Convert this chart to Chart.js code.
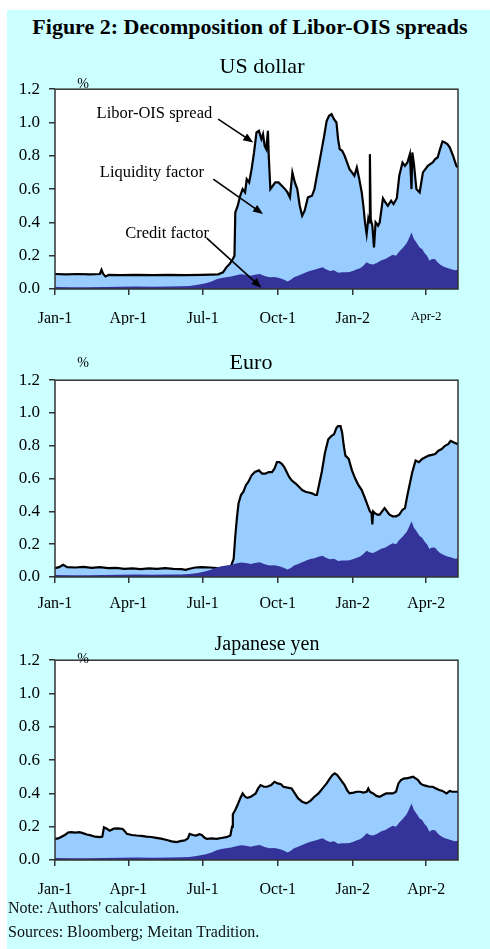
<!DOCTYPE html>
<html>
<head>
<meta charset="utf-8">
<script src="https://cdn.jsdelivr.net/npm/chart.js@4.4.1/dist/chart.umd.min.js"></script>
<style>
  body { margin: 0; width: 490px; height: 949px; background: #fff; position: relative; overflow: hidden;
         font-family: 'Liberation Serif', 'Times New Roman', serif; }
  #bg { position: absolute; left: 7px; top: 10px; right: 0; bottom: 0; background: #ccffff; }
  canvas { position: absolute; left: 0; }
  .t { position: absolute; white-space: nowrap; color: #000; transform: translate(-50%, -50%); }
  .l { position: absolute; white-space: nowrap; color: #111; transform: translateY(-50%); font-size: 16px; }
</style>
</head>
<body>
<div id="bg"></div>
<canvas id="usChart" width="490" height="260" style="top:70px"></canvas>
<canvas id="euroChart" width="490" height="260" style="top:361px"></canvas>
<canvas id="yenChart" width="490" height="260" style="top:641px"></canvas>

<div class="t" style="left:250px;top:27px;font-size:22px;font-weight:bold;">Figure 2: Decomposition of Libor-OIS spreads</div>
<div class="t" style="left:262px;top:66px;font-size:22px;">US dollar</div>
<div class="t" style="left:83px;top:84px;font-size:14px;">%</div>
<div class="t" style="left:251px;top:362px;font-size:22px;">Euro</div>
<div class="t" style="left:83px;top:363px;font-size:14px;">%</div>
<div class="t" style="left:267px;top:643px;font-size:20px;">Japanese yen</div>
<div class="t" style="left:83px;top:659px;font-size:14px;">%</div>
<div class="l" style="left:8px;top:908px;">Note: Authors' calculation.</div>
<div class="l" style="left:8px;top:932px;">Sources: Bloomberg; Meitan Tradition.</div>

<script>
// x axis is in days from Jan-1 of year 1
const tickDays = [0, 90, 181, 273, 365, 455];
const tickLabels = ['Jan-1', 'Apr-1', 'Jul-1', 'Oct-1', 'Jan-2', 'Apr-2'];
const lastDay = 494;

// credit factor (same in all three panels)
const creditDays = [0, 20, 40, 60, 80, 100, 120, 140, 155, 165, 175, 185, 192, 198, 204, 210, 216, 222, 228, 234,
    240, 245, 251, 257, 263, 269, 276, 281, 285, 289, 293, 298, 303, 308, 313, 318, 324, 328, 332, 337,
    342, 347, 352, 357, 361, 366, 370, 374, 378, 382, 386, 390, 395, 400, 405, 410, 414, 418, 422, 426,
    431, 434, 437, 440, 443, 447, 450, 453, 456, 459, 462, 466, 469, 472, 476, 480, 485, 490, 494];
const creditFactor = [0.012, 0.01, 0.01, 0.012, 0.014, 0.015, 0.014, 0.015, 0.016, 0.018, 0.025, 0.035, 0.045, 0.058, 0.066, 0.07, 0.075, 0.082, 0.088, 0.085,
    0.08, 0.085, 0.09, 0.078, 0.07, 0.072, 0.064, 0.055, 0.045, 0.055, 0.07, 0.08, 0.09, 0.1, 0.11, 0.115, 0.125, 0.13, 0.118, 0.108,
    0.112, 0.098, 0.1, 0.1, 0.102, 0.11, 0.118, 0.125, 0.14, 0.16, 0.15, 0.147, 0.158, 0.172, 0.18, 0.195, 0.206, 0.2, 0.225, 0.245,
    0.275, 0.305, 0.34, 0.3, 0.28, 0.25, 0.24, 0.216, 0.2, 0.17, 0.18, 0.178, 0.16, 0.147, 0.135, 0.127, 0.12, 0.112, 0.115];

// US dollar Libor-OIS spread
const usDays = [0, 14, 28, 42, 55, 57, 59, 62, 66, 80, 100, 120, 140, 160, 180, 200, 206, 210, 214, 218,
    220, 221, 224, 227, 230, 233, 235, 238, 241, 244, 247, 250, 253, 255, 257, 259, 261, 262, 264, 267,
    270, 274, 278, 282, 285, 288, 291, 294, 297, 300, 303, 306, 310, 315, 318, 321, 324, 327, 330, 333,
    336, 339, 342, 345, 347, 349, 352, 355, 358, 361, 364, 367, 370, 373, 376, 378, 380, 382, 384, 385,
    386, 387, 389, 391, 393, 396, 398, 402, 405, 408, 412, 415, 419, 422, 426, 429, 432, 435, 437, 438,
    440, 443, 447, 451, 454, 457, 460, 463, 466, 469, 472, 475, 478, 481, 484, 488, 492, 494];
const usSpread = [0.09, 0.088, 0.09, 0.088, 0.09, 0.115, 0.09, 0.075, 0.085, 0.083, 0.085, 0.083, 0.085, 0.083, 0.085, 0.088, 0.1, 0.13, 0.15, 0.18,
    0.2, 0.46, 0.5, 0.56, 0.6, 0.58, 0.66, 0.64, 0.72, 0.82, 0.94, 0.95, 0.9, 0.93, 0.86, 0.84, 0.95, 0.8, 0.6, 0.62,
    0.64, 0.64, 0.62, 0.6, 0.58, 0.55, 0.7, 0.64, 0.6, 0.5, 0.44, 0.47, 0.55, 0.56, 0.6, 0.68, 0.76, 0.84, 0.92, 1.01,
    1.04, 1.05, 1.02, 1.0, 0.9, 0.84, 0.83, 0.8, 0.76, 0.72, 0.7, 0.68, 0.73, 0.66, 0.58, 0.5, 0.4, 0.33, 0.42, 0.4,
    0.81, 0.42, 0.38, 0.25, 0.4, 0.38, 0.4, 0.545, 0.52, 0.5, 0.53, 0.51, 0.545, 0.68, 0.76, 0.74, 0.76, 0.81, 0.6, 0.82,
    0.75, 0.6, 0.58, 0.7, 0.72, 0.74, 0.75, 0.76, 0.78, 0.79, 0.84, 0.886, 0.88, 0.87, 0.85, 0.8, 0.74, 0.73];

// Euro Libor-OIS spread
const euroDays = [0, 5, 10, 15, 25, 35, 45, 55, 65, 75, 85, 95, 105, 115, 125, 135, 145, 155, 160, 165,
    172, 180, 190, 198, 205, 212, 216, 219, 221, 223, 225, 228, 231, 234, 237, 241, 245, 250, 254, 258,
    262, 266, 269, 272, 275, 278, 281, 284, 287, 290, 295, 299, 303, 307, 311, 315, 319, 321, 324, 327,
    331, 335, 339, 342, 345, 347, 350, 352, 354, 356, 360, 364, 368, 372, 376, 380, 383, 386, 388, 389,
    390, 392, 395, 398, 401, 404, 407, 410, 414, 418, 422, 426, 429, 432, 435, 438, 442, 446, 450, 454,
    458, 462, 466, 470, 474, 478, 482, 485, 489, 494];
const euroSpread = [0.054, 0.06, 0.074, 0.06, 0.058, 0.062, 0.056, 0.06, 0.054, 0.056, 0.05, 0.052, 0.048, 0.052, 0.05, 0.054, 0.05, 0.048, 0.044, 0.05,
    0.058, 0.06, 0.058, 0.055, 0.048, 0.05, 0.07, 0.11, 0.25, 0.36, 0.45, 0.5, 0.52, 0.56, 0.58, 0.62, 0.64, 0.65, 0.63, 0.63,
    0.64, 0.64, 0.66, 0.7, 0.7, 0.69, 0.67, 0.64, 0.61, 0.59, 0.57, 0.55, 0.53, 0.52, 0.515, 0.51, 0.5, 0.5, 0.57, 0.64,
    0.76, 0.84, 0.86, 0.87, 0.91, 0.92, 0.92, 0.88, 0.8, 0.74, 0.72, 0.65, 0.6, 0.56, 0.53, 0.48, 0.44, 0.4, 0.39, 0.32,
    0.4, 0.39, 0.38, 0.38, 0.4, 0.42, 0.4, 0.38, 0.37, 0.37, 0.38, 0.41, 0.42, 0.5, 0.57, 0.64, 0.71, 0.7, 0.72, 0.73,
    0.74, 0.745, 0.75, 0.77, 0.78, 0.8, 0.81, 0.83, 0.82, 0.81];

// Japanese yen Libor-OIS spread
const yenDays = [0, 4, 8, 12, 16, 20, 25, 30, 35, 39, 44, 49, 55, 58, 60, 63, 67, 72, 77, 83,
    86, 88, 94, 100, 106, 112, 118, 124, 130, 137, 143, 149, 155, 159, 163, 165, 169, 173, 177, 180,
    183, 186, 192, 198, 204, 210, 215, 217, 218, 221, 224, 227, 230, 233, 236, 240, 243, 246, 249, 252,
    256, 260, 265, 269, 273, 277, 280, 285, 290, 294, 298, 303, 308, 313, 318, 323, 328, 333, 337, 340,
    343, 346, 349, 352, 355, 358, 361, 366, 370, 374, 378, 382, 384, 386, 390, 394, 398, 402, 406, 410,
    414, 418, 421, 424, 428, 431, 435, 439, 442, 445, 448, 451, 455, 459, 463, 467, 471, 475, 480, 484,
    487, 490, 494];
const yenSpread = [0.127, 0.13, 0.14, 0.15, 0.165, 0.167, 0.165, 0.167, 0.16, 0.153, 0.148, 0.14, 0.137, 0.14, 0.196, 0.19, 0.176, 0.188, 0.19, 0.186,
    0.17, 0.157, 0.15, 0.147, 0.145, 0.14, 0.138, 0.133, 0.128, 0.12, 0.112, 0.108, 0.115, 0.118, 0.13, 0.157, 0.15, 0.147, 0.155, 0.15,
    0.135, 0.127, 0.13, 0.127, 0.132, 0.137, 0.147, 0.2, 0.275, 0.3, 0.333, 0.37, 0.4, 0.38, 0.373, 0.38, 0.39, 0.4, 0.43, 0.45,
    0.44, 0.44, 0.45, 0.47, 0.46, 0.455, 0.44, 0.435, 0.43, 0.4, 0.37, 0.35, 0.34, 0.355, 0.38, 0.4, 0.43, 0.46, 0.49, 0.51,
    0.52, 0.51, 0.49, 0.47, 0.45, 0.42, 0.4, 0.405, 0.41, 0.41, 0.405, 0.41, 0.43, 0.41, 0.4, 0.385, 0.38, 0.39, 0.4, 0.4,
    0.4, 0.41, 0.46, 0.48, 0.49, 0.49, 0.495, 0.5, 0.49, 0.48, 0.46, 0.45, 0.445, 0.44, 0.44, 0.43, 0.42, 0.415, 0.4, 0.415,
    0.41, 0.41, 0.41];

// US panel annotations: text anchor and arrow, in data units (day, %)
const usNotes = [
    { text: 'Libor-OIS spread', at: [51, 1.053], from: [200, 1.02], to: [243, 0.88] },
    { text: 'Liquidity factor', at: [55, 0.7], from: [194, 0.66], to: [255, 0.45] },
    { text: 'Credit factor', at: [86, 0.335], from: [186, 0.306], to: [253, 0.008] }
];

const serif = "'Liberation Serif', 'Times New Roman', serif";

function toPoints(days, vals) {
    return days.map((d, i) => ({ x: d, y: vals[i] }));
}

const boxPlugin = {
    id: 'box',
    beforeDraw(chart) {
        const { ctx, chartArea: a } = chart;
        ctx.save();
        ctx.fillStyle = '#fff';
        ctx.fillRect(a.left, a.top, a.right - a.left, a.bottom - a.top);
        ctx.restore();
    },
    afterDatasetsDraw(chart) {
        const { ctx, chartArea: a } = chart;
        ctx.save();
        ctx.strokeStyle = '#333';
        ctx.lineWidth = 1.5;
        ctx.strokeRect(a.left, a.top, a.right - a.left, a.bottom - a.top);
        ctx.restore();
    }
};

const notesPlugin = {
    id: 'notes',
    afterDraw(chart) {
        const notes = chart.options.plugins.notes.items;
        if (!notes) return;
        const { ctx, scales: { x, y } } = chart;
        ctx.save();
        ctx.font = '16.5px ' + serif;
        ctx.fillStyle = '#000';
        ctx.strokeStyle = '#000';
        ctx.textBaseline = 'middle';
        notes.forEach(n => {
            ctx.fillText(n.text, x.getPixelForValue(n.at[0]), y.getPixelForValue(n.at[1]));
            const x1 = x.getPixelForValue(n.from[0]), y1 = y.getPixelForValue(n.from[1]);
            const x2 = x.getPixelForValue(n.to[0]), y2 = y.getPixelForValue(n.to[1]);
            const ang = Math.atan2(y2 - y1, x2 - x1);
            ctx.lineWidth = 1.6;
            ctx.beginPath();
            ctx.moveTo(x1, y1);
            ctx.lineTo(x2 - 6 * Math.cos(ang), y2 - 6 * Math.sin(ang));
            ctx.stroke();
            ctx.beginPath();
            ctx.moveTo(x2, y2);
            ctx.lineTo(x2 - 10 * Math.cos(ang) + 4 * Math.sin(ang), y2 - 10 * Math.sin(ang) - 4 * Math.cos(ang));
            ctx.lineTo(x2 - 10 * Math.cos(ang) - 4 * Math.sin(ang), y2 - 10 * Math.sin(ang) + 4 * Math.cos(ang));
            ctx.closePath();
            ctx.fill();
        });
        ctx.restore();
    }
};

function makePanel(id, days, spread, padBottom, labelPad, notes, smallLast) {
    return new Chart(document.getElementById(id).getContext('2d'), {
        type: 'line',
        data: {
            datasets: [
                {
                    label: 'Credit factor',
                    data: toPoints(creditDays, creditFactor),
                    fill: 'origin',
                    backgroundColor: '#333399',
                    borderWidth: 0,
                    pointRadius: 0
                },
                {
                    label: 'Libor-OIS spread',
                    data: toPoints(days, spread),
                    fill: 'origin',
                    backgroundColor: '#99ccff',
                    borderColor: '#000',
                    borderWidth: 2.2,
                    pointRadius: 0
                }
            ]
        },
        options: {
            responsive: false,
            animation: false,
            layout: { padding: { top: 15, right: 32, bottom: padBottom, left: 0 } },
            plugins: {
                legend: { display: false },
                tooltip: { enabled: false },
                notes: { items: notes }
            },
            scales: {
                x: {
                    type: 'linear',
                    min: 0,
                    max: lastDay,
                    afterBuildTicks: axis => { axis.ticks = tickDays.map(v => ({ value: v })); },
                    afterFit: s => { s.height = 36; },
                    grid: { display: true, drawOnChartArea: false, drawTicks: true, tickLength: 6, color: '#333', lineWidth: 1.5 },
                    border: { display: false },
                    ticks: {
                        autoSkip: false,
                        maxRotation: 0,
                        padding: labelPad,
                        color: '#000',
                        font: c => ({ family: serif, size: (smallLast && c.tick && c.tick.value === 455) ? 13 : 16 }),
                        callback: v => tickLabels[tickDays.indexOf(v)]
                    }
                },
                y: {
                    min: 0,
                    max: 1.2,
                    afterFit: s => { s.width = 55; },
                    grid: { display: true, drawOnChartArea: false, drawTicks: true, tickLength: 6, color: '#333', lineWidth: 1.5 },
                    border: { display: false },
                    ticks: {
                        stepSize: 0.2,
                        padding: 9,
                        color: '#000',
                        font: { family: serif, size: 17 },
                        callback: v => v.toFixed(1)
                    }
                }
            }
        },
        plugins: [boxPlugin, notesPlugin]
    });
}

makePanel('usChart', usDays, usSpread, 5, 14, usNotes, true);
makePanel('euroChart', euroDays, euroSpread, 8, 11, null, false);
makePanel('yenChart', yenDays, yenSpread, 5, 14, null, false);
</script>
</body>
</html>
